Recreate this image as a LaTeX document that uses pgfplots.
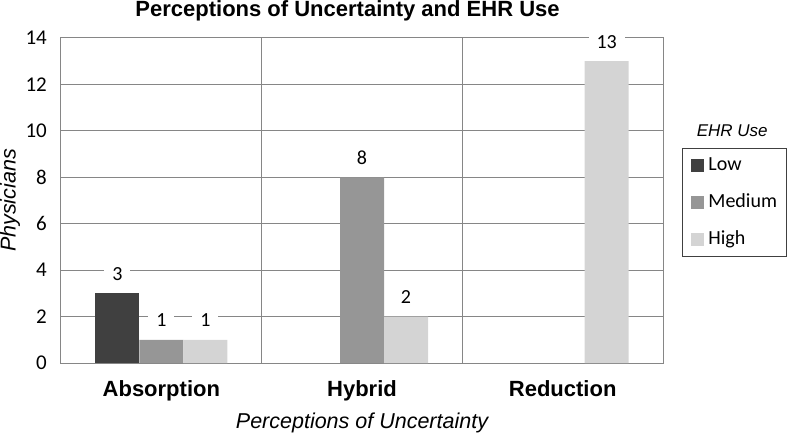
\documentclass[border=0pt]{standalone}
\usepackage{fontspec}
\setmainfont{Liberation Sans}
\newfontfamily\carlito{Carlito}
\usepackage{pgfplots}
\pgfplotsset{compat=1.18}
\definecolor{lowc}{HTML}{404040}
\definecolor{medc}{HTML}{969696}
\definecolor{highc}{HTML}{D4D4D4}
\definecolor{gridc}{HTML}{868686}

\begin{document}
\begin{tikzpicture}
\useasboundingbox (0,0) rectangle (787pt,-433pt);
\begin{axis}[
  at={(61pt,-363pt)}, anchor=south west,
  width=602pt, height=325pt, scale only axis,
  clip=false,
  ybar=0pt, bar width=44pt,
  xmin=-0.5, xmax=2.5, ymin=0, ymax=14,
  xtick={0,1,2}, xticklabels={Absorption,Hybrid,Reduction},
  minor xtick={0.5,1.5},
  ytick={0,2,...,14},
  ymajorgrids, xminorgrids,
  major grid style={gridc, line width=1pt},
  minor grid style={gridc, line width=1pt},
  axis line style={gridc, line width=1pt},
  major tick length=0pt, minor tick length=0pt,
  /pgf/number format/assume math mode=true,
  title={Perceptions of Uncertainty and EHR Use},
  title style={font=\bfseries\fontsize{22}{26}\selectfont, at={(axis description cs:0.476,1)}, anchor=base, yshift=15.5pt},
  xticklabel style={font=\bfseries\fontsize{22}{26}\selectfont, anchor=base, yshift=-33.7pt},
  yticklabel style={font=\carlito\fontsize{21}{25}\selectfont, anchor=east, inner xsep=0pt, xshift=-14pt},
  xlabel={Perceptions of Uncertainty},
  xlabel style={font=\itshape\fontsize{21.5}{26}\selectfont, at={(axis description cs:0.5,0)}, anchor=base, yshift=-65pt},
  ylabel={Physicians},
  ylabel style={font=\itshape\fontsize{21.5}{26}\selectfont, at={(axis description cs:-0.0847,0.5)}, anchor=center},
  nodes near coords,
  every node near coord/.append style={font=\carlito\fontsize{20}{24}\selectfont, fill=white, inner xsep=8pt, inner ysep=2pt, yshift=10.7pt},
  legend image code/.code={\fill[#1] (0pt,-6.5pt) rectangle (13pt,6.5pt);},
  legend cell align=left,
  legend style={at={(axis description cs:1.0316,0.6615)}, anchor=north west, draw=black!75, line width=0.75pt,
    inner xsep=9pt, inner ysep=8pt, row sep=19pt, column sep=4pt,
    nodes={inner sep=0pt, text height=14pt, text depth=4pt, font=\carlito\fontsize{20}{24}\selectfont}},
]
\addplot[fill=lowc, draw=none] coordinates {(0,3)};
\addplot[fill=medc, draw=none] coordinates {(0,1) (1,8)};
\addplot[fill=highc, draw=none] coordinates {(0,1) (1,2) (2,13)};
\legend{Low,Medium,High}
\node[font=\itshape\fontsize{17}{20}\selectfont] at (axis description cs:1.115,0.714) {EHR Use};
\end{axis}
\end{tikzpicture}
\end{document}
